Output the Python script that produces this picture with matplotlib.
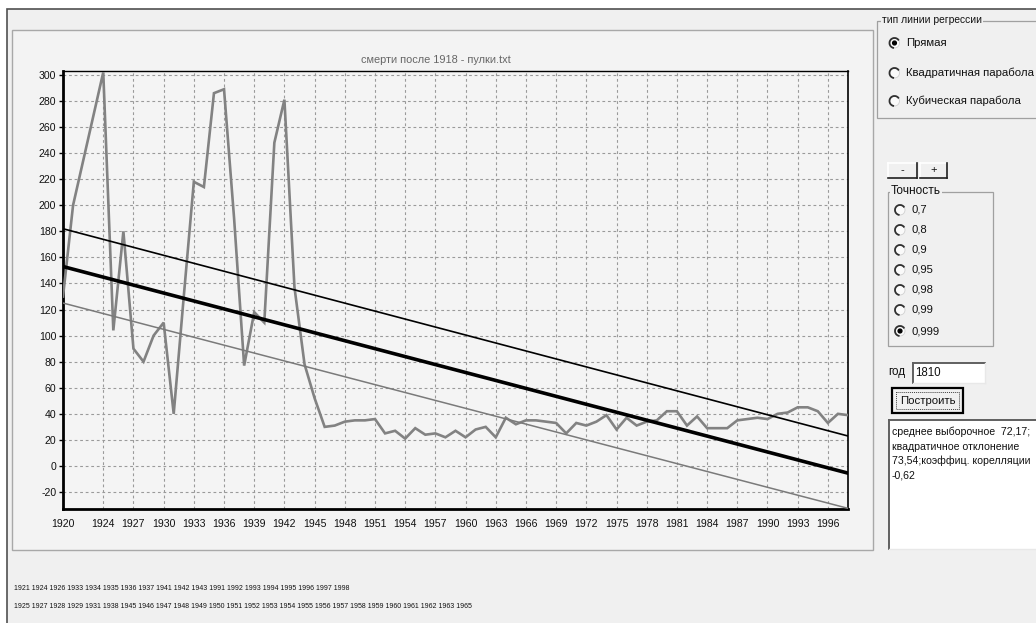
import matplotlib
matplotlib.use("Agg")
import matplotlib.pyplot as plt
from matplotlib.patches import Rectangle, Circle, Arc

# ---------------- data ----------------
years = [1920, 1921, 1924, 1925, 1926, 1927, 1928, 1929, 1930, 1931, 1932, 1933,
         1934, 1935, 1936, 1937, 1938, 1939, 1940, 1941, 1942, 1943, 1944, 1945,
         1946, 1947, 1948, 1949, 1950, 1951, 1952, 1953, 1954, 1955, 1956, 1957,
         1958, 1959, 1960, 1961, 1962, 1963, 1964, 1965, 1966, 1967, 1968, 1969,
         1970, 1971, 1972, 1973, 1974, 1975, 1976, 1977, 1978, 1979, 1980, 1981,
         1982, 1983, 1984, 1985, 1986, 1987, 1988, 1989, 1990, 1991, 1992, 1993,
         1994, 1995, 1996, 1997, 1998]
deaths = [130, 200, 302, 104, 180, 90, 80, 100, 110, 40, 130, 218,
          214, 286, 289, 190, 77, 118, 110, 248, 281, 137, 78, 52,
          30, 31, 34, 35, 35, 36, 25, 27, 21, 29, 24, 25,
          22, 27, 22, 28, 30, 22, 37, 32, 35, 35, 34, 33,
          25, 33, 31, 34, 39, 28, 37, 31, 34, 35, 42, 42,
          31, 38, 29, 29, 29, 35, 36, 37, 36, 40, 41, 45,
          45, 42, 33, 40, 39]

reg_years = [1920, 1998]
reg_mid = [153.0, -5.5]
reg_upper = [182.0, 23.0]
reg_lower = [125.0, -32.5]

x_ticks = [1920, 1924, 1927, 1930, 1933, 1936, 1939, 1942, 1945, 1948, 1951,
           1954, 1957, 1960, 1963, 1966, 1969, 1972, 1975, 1978, 1981, 1984,
           1987, 1990, 1993, 1996]
y_ticks = [-20, 0, 20, 40, 60, 80, 100, 120, 140, 160, 180, 200, 220, 240,
           260, 280, 300]

chart_title = "смерти после 1918 - пулки.txt"
above_years = [1921, 1924, 1926, 1933, 1934, 1935, 1936, 1937, 1941, 1942, 1943,
               1991, 1992, 1993, 1994, 1995, 1996, 1997, 1998]
below_years = [1925, 1927, 1928, 1929, 1931, 1938, 1945, 1946, 1947, 1948, 1949,
               1950, 1951, 1952, 1953, 1954, 1955, 1956, 1957, 1958, 1959, 1960,
               1961, 1962, 1963, 1965]

reg_group_title = "тип линии регрессии"
reg_types = ["Прямая", "Квадратичная парабола", "Кубическая парабола"]
reg_selected = 0
prec_group_title = "Точность"
precisions = ["0,7", "0,8", "0,9", "0,95", "0,98", "0,99", "0,999"]
prec_selected = 6
year_label = "год"
year_value = "1810"
build_label = "Построить"
stats_lines = ["среднее выборочное  72,17;", "квадратичное отклонение",
               "73,54;коэффиц. корелляции", "-0,62"]

# ---------------- figure ----------------
W, H = 1036, 623
FONT = ["Liberation Sans Narrow", "Liberation Sans", "DejaVu Sans"]
plt.rcParams["font.family"] = FONT
plt.rcParams["axes.unicode_minus"] = False

fig = plt.figure(figsize=(W / 100, H / 100), dpi=100)
fig.patch.set_facecolor("white")

bg = fig.add_axes([0, 0, 1, 1], zorder=0)
bg.set_xlim(0, W)
bg.set_ylim(H, 0)
bg.axis("off")

# window
bg.add_patch(Rectangle((7, 9), W, H, facecolor="#f0f0f0", edgecolor="#505050",
                       lw=1.2, zorder=1))
# chart panel
bg.add_patch(Rectangle((12, 30), 861, 520, facecolor="#f3f3f3",
                       edgecolor="#a8a8a8", lw=1.0, zorder=1.5))

bg.text(436, 60, chart_title, ha="center", va="center", fontsize=7.9,
        color="#666666", zorder=5)

# bottom lists
bg.text(14, 589, " ".join(str(v) for v in above_years), ha="left", va="center",
        fontsize=5.0, color="#111111", zorder=5)
bg.text(14, 606, " ".join(str(v) for v in below_years), ha="left", va="center",
        fontsize=5.0, color="#111111", zorder=5)


def radio(x, y, selected):
    bg.add_patch(Circle((x, y), 5.0, facecolor="#fafafa", edgecolor="#d0d0d0",
                        lw=0.6, zorder=4))
    bg.add_patch(Arc((x, y), 10.0, 10.0, theta1=95, theta2=330, color="#303030",
                     lw=1.3, zorder=5))
    if selected:
        bg.add_patch(Circle((x, y), 1.9, color="black", zorder=6))


def group(x0, y0, x1, y1, title, tx, fs):
    bg.add_patch(Rectangle((x0, y0), x1 - x0, y1 - y0, facecolor="none",
                           edgecolor="#a0a0a0", lw=0.9, zorder=3))
    bg.text(tx, y0 - 1, title, ha="left", va="center", fontsize=fs,
            color="#111111", zorder=5,
            bbox=dict(facecolor="#f0f0f0", edgecolor="none", pad=0.6))


def button(x0, y0, x1, y1, label, fs=9.0, bold_border=False):
    bg.add_patch(Rectangle((x0, y0), x1 - x0, y1 - y0, facecolor="#f0f0f0",
                           edgecolor="none", zorder=3))
    if bold_border:
        bg.add_patch(Rectangle((x0, y0), x1 - x0, y1 - y0, facecolor="none",
                               edgecolor="black", lw=1.6, zorder=4))
        bg.add_patch(Rectangle((x0 + 4, y0 + 4), x1 - x0 - 8, y1 - y0 - 8,
                               facecolor="none", edgecolor="#404040", lw=0.7,
                               linestyle=(0, (1, 1)), zorder=4))
    else:
        bg.plot([x0, x1], [y0, y0], color="white", lw=1.2, zorder=4)
        bg.plot([x0, x0], [y0, y1], color="white", lw=1.2, zorder=4)
        bg.plot([x0, x1], [y1, y1], color="#202020", lw=1.2, zorder=4)
        bg.plot([x1, x1], [y0, y1], color="#202020", lw=1.2, zorder=4)
    bg.text((x0 + x1) / 2, (y0 + y1) / 2, label, ha="center", va="center",
            fontsize=fs, color="#111111", zorder=5)


def sunken(x0, y0, x1, y1):
    bg.add_patch(Rectangle((x0, y0), x1 - x0, y1 - y0, facecolor="white",
                           edgecolor="none", zorder=3))
    bg.plot([x0, x1], [y0, y0], color="#606060", lw=1.4, zorder=4)
    bg.plot([x0, x0], [y0, y1], color="#606060", lw=1.4, zorder=4)
    bg.plot([x0, x1], [y1, y1], color="#e8e8e8", lw=1.0, zorder=4)
    bg.plot([x1, x1], [y0, y1], color="#e8e8e8", lw=1.0, zorder=4)


# regression type group
group(877, 20.7, 1045, 118, reg_group_title, 882, 7.4)
for i, (lab, yy) in enumerate(zip(reg_types, [43, 73, 101])):
    radio(894.5, yy, i == reg_selected)
    bg.text(906, yy, lab, ha="left", va="center", fontsize=8.2, color="#111111",
            zorder=5)

# - / + buttons
button(888, 163, 917, 178, "-", fs=8)
button(920, 163, 947, 178, "+", fs=8)

# precision group
group(888, 192, 993, 346, prec_group_title, 891, 8.6)
for i, (lab, yy) in enumerate(zip(precisions, [210, 230, 250, 270, 290, 310, 331])):
    radio(900, yy, i == prec_selected)
    bg.text(911, yy, lab, ha="left", va="center", fontsize=8.1, color="#111111",
            zorder=5)

# year entry
bg.text(888, 372, year_label, ha="left", va="center", fontsize=8.4,
        color="#111111", zorder=5)
sunken(913, 363, 985, 383)
bg.text(915, 373.5, year_value, ha="left", va="center", fontsize=8.3,
        color="#111111", zorder=5)

button(892, 388, 963, 413, build_label, fs=8.2, bold_border=True)

# stats box
sunken(889, 420, 1045, 549)
for txt, yy in zip(stats_lines, [432, 447, 461, 475]):
    bg.text(892, yy, txt, ha="left", va="center", fontsize=7.6,
            color="#111111", zorder=5)

# ---------------- chart ----------------
ax = fig.add_axes([63 / W, 1 - 509 / H, 785 / W, 438 / H], zorder=2)
ax.set_facecolor("#f4f4f4")
ax.set_xlim(1920, 1998)
ax.set_ylim(-33, 303)

ax.plot(years, deaths, color="#828282", lw=1.9, zorder=3, solid_joinstyle="miter")
ax.plot(reg_years, reg_upper, color="black", lw=1.2, zorder=4)
ax.plot(reg_years, reg_mid, color="black", lw=2.6, zorder=4)
ax.plot(reg_years, reg_lower, color="#7a7a7a", lw=1.1, zorder=4)

ax.set_xticks(x_ticks)
ax.set_yticks(y_ticks)
ax.grid(True, color="#9a9a9a", linestyle=(0, (2.5, 2.5)), lw=0.8)
ax.set_axisbelow(True)

for side, lw in [("left", 2.0), ("bottom", 2.0), ("top", 1.0), ("right", 1.2)]:
    ax.spines[side].set_linewidth(lw)
    ax.spines[side].set_color("black")

ax.tick_params(axis="x", length=0, pad=7.0, labelsize=7.6, labelcolor="#111111")
ax.tick_params(axis="y", length=3, width=1, pad=1.8, labelsize=7.6,
               labelcolor="#111111")

fig.savefig("out.png", dpi=100, facecolor=fig.get_facecolor())
